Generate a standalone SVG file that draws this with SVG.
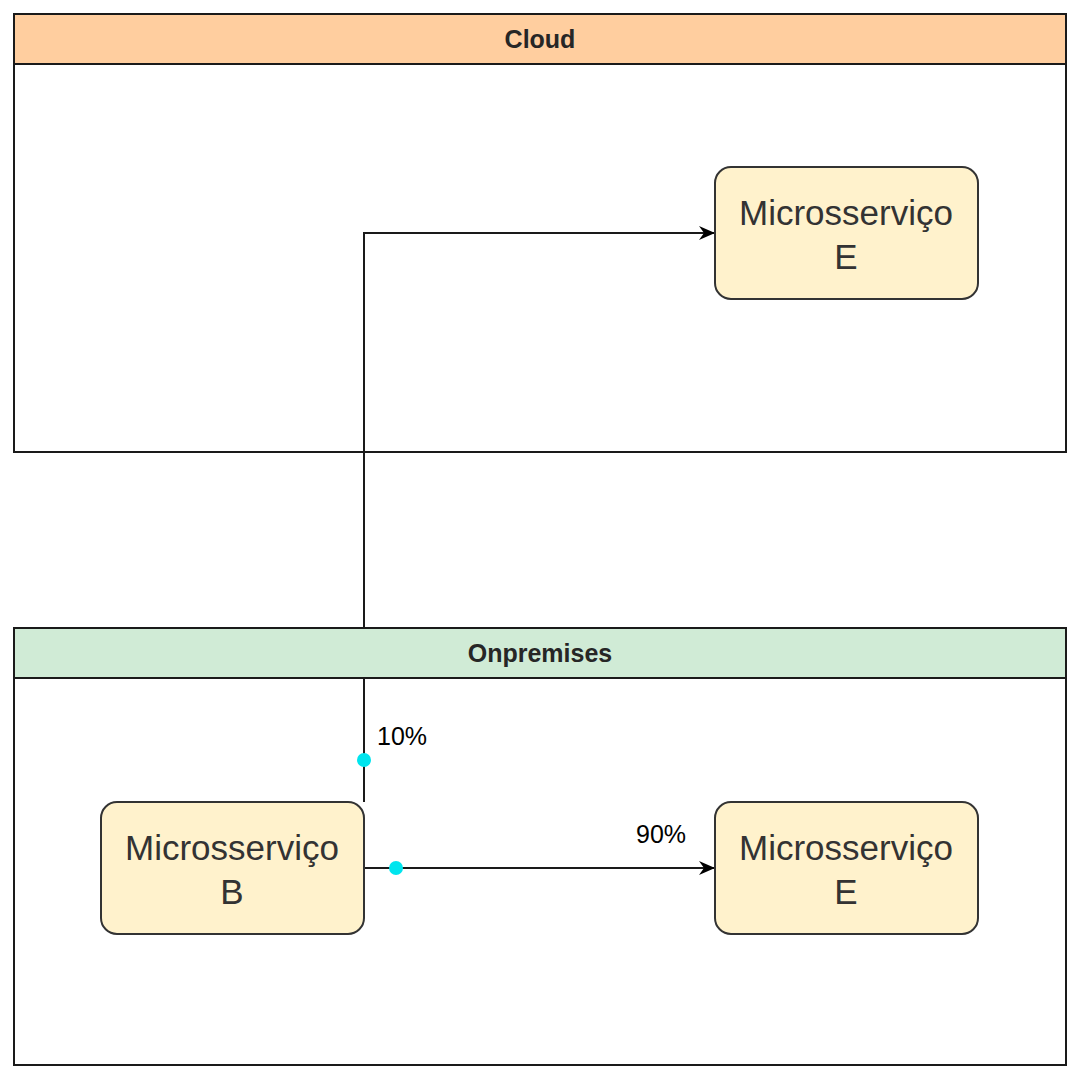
<svg xmlns="http://www.w3.org/2000/svg" width="1080" height="1080" viewBox="0 0 1080 1080">
<defs>
<style>
.cont{fill:#ffffff;stroke:#1a1a1a;stroke-width:2}
.hdr{stroke:#1a1a1a;stroke-width:2}
.htxt{font-family:"Liberation Sans",Arial,sans-serif;font-size:25px;font-weight:bold;fill:#262626;text-anchor:middle}
.node{fill:#fff2cc;stroke:#333333;stroke-width:2}
.ntxt{font-family:"Liberation Sans",Arial,sans-serif;font-size:35px;fill:#333333;text-anchor:middle}
.edge{fill:none;stroke:#1a1a1a;stroke-width:2}
.lbl{font-family:"Liberation Sans",Arial,sans-serif;font-size:25px;fill:#000000}
.dot{fill:#00e5ee}
</style>
<marker id="arr" markerWidth="16" markerHeight="14" refX="15" refY="7" orient="auto" markerUnits="userSpaceOnUse">
<path d="M0,0 L16,7 L0,14 L5,7 Z" fill="#000000"/>
</marker>
</defs>
<rect width="1080" height="1080" fill="#ffffff"/>
<g id="cloud">
<rect class="cont" x="14" y="14" width="1052" height="438"/>
</g>
<g id="onpremises">
<rect class="cont" x="14" y="628" width="1052" height="437"/>
</g>
<g id="connectors">
<path class="edge" d="M364,802 L364,233 L714,233" marker-end="url(#arr)"/>
<path class="edge" d="M364,868 L714,868" marker-end="url(#arr)"/>
<circle class="dot" cx="364" cy="760" r="7"/>
<circle class="dot" cx="396" cy="868" r="7"/>
<text class="lbl" x="377" y="745">10%</text>
<text class="lbl" x="636" y="843">90%</text>
</g>
<g id="cloud-header">
<rect class="hdr" x="14" y="14" width="1052" height="50" fill="#ffce9f"/>
<text class="htxt" x="540" y="48">Cloud</text>
</g>
<g id="onpremises-header">
<rect class="hdr" x="14" y="628" width="1052" height="50" fill="#d0ebd6"/>
<text class="htxt" x="540" y="662">Onpremises</text>
</g>
<g id="node-cloud-e">
<rect class="node" x="715" y="167" width="263" height="132" rx="16"/>
<text class="ntxt" x="846" y="225">Microsserviço</text>
<text class="ntxt" x="846" y="269">E</text>
</g>
<g id="node-b">
<rect class="node" x="101" y="802" width="263" height="132" rx="16"/>
<text class="ntxt" x="232" y="860">Microsserviço</text>
<text class="ntxt" x="232" y="904">B</text>
</g>
<g id="node-onprem-e">
<rect class="node" x="715" y="802" width="263" height="132" rx="16"/>
<text class="ntxt" x="846" y="860">Microsserviço</text>
<text class="ntxt" x="846" y="904">E</text>
</g>
</svg>
